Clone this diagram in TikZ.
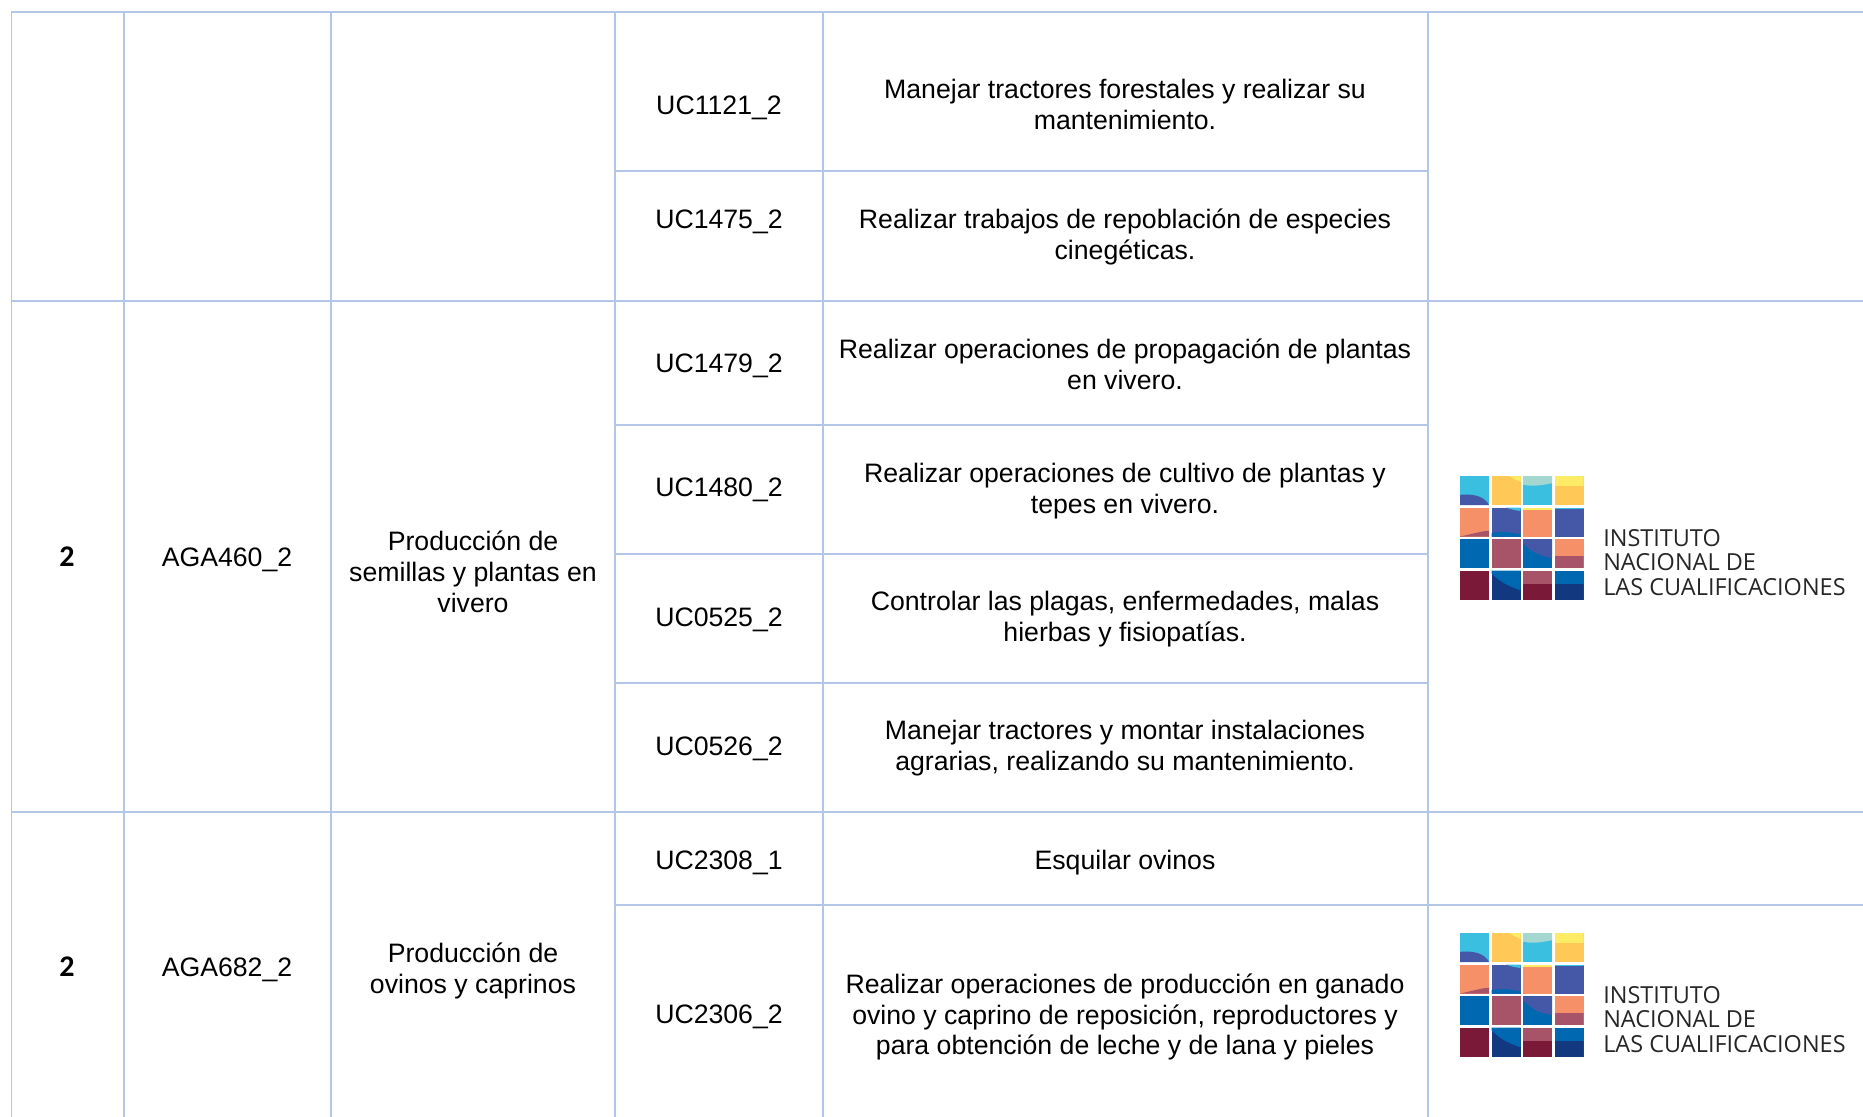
\documentclass[tikz,border=0pt]{standalone}
\usepackage{fontspec}
\setmainfont{Liberation Sans}
\newfontfamily\boldcal{Carlito}
\newfontfamily\logofont{Open Sans}
\definecolor{gridblue}{HTML}{B4C6E7}
\definecolor{lcyan}{HTML}{3BBFE0}
\definecolor{lyellow}{HTML}{FFC857}
\definecolor{lpale}{HTML}{FFEC66}
\definecolor{lmint}{HTML}{A4D7D0}
\definecolor{lorange}{HTML}{F59068}
\definecolor{lindigo}{HTML}{4558A8}
\definecolor{lblue}{HTML}{0068B0}
\definecolor{lmauve}{HTML}{A85468}
\definecolor{lmaroon}{HTML}{7A1A38}
\definecolor{lnavy}{HTML}{123880}
\newcommand{\lover}[4]{%
  \begin{scope}[shift={(#1*31.5,#2*31.5)},x=21.75pt,y=-21.75pt]
    \clip (0,0) rectangle (1,1);
    \fill[#3] #4;
  \end{scope}}
\newcommand{\lcell}[3]{%
  \begin{scope}[shift={(#1*31.5,#2*31.5)},x=21.75pt,y=-21.75pt]
    \fill[#3] (0,0) rectangle (1,1);
  \end{scope}}
\newcommand{\inclogo}[2]{%
  \begin{scope}[shift={(#1,#2)}]
    \lcell{0}{0}{lcyan}
    \lover{0}{0}{lindigo}{(0,1) -- (0,.65) .. controls (.45,.6) and (.85,.7) .. (1,1) -- cycle}
    \lcell{1}{0}{lyellow}
    \lover{1}{0}{lpale}{(.62,0) .. controls (.75,.1) and (.9,.15) .. (1,.2) -- (1,0) -- cycle}
    \lcell{2}{0}{lcyan}
    \lover{2}{0}{lmint}{(0,0) -- (0,.3) .. controls (.4,.38) and (.7,.3) .. (1,.25) -- (1,0) -- cycle}
    \lcell{3}{0}{lyellow}
    \lover{3}{0}{lpale}{(0,0) rectangle (1,.33)}
    \lcell{0}{1}{lorange}
    \lover{0}{1}{lmauve}{(0,1) .. controls (.4,.92) and (.7,.82) .. (1,.8) -- (1,1) -- cycle}
    \lcell{1}{1}{lindigo}
    \lover{1}{1}{lcyan}{(.5,0) .. controls (.7,.08) and (.85,.1) .. (1,.12) -- (1,0) -- cycle}
    \lover{1}{1}{lblue}{(0,1) -- (0,.88) .. controls (.4,.8) and (.7,.88) .. (1,.92) -- (1,1) -- cycle}
    \lcell{2}{1}{lorange}
    \lover{2}{1}{lpale}{(0,0) rectangle (1,.1)}
    \lcell{3}{1}{lindigo}
    \lover{3}{1}{lcyan}{(0,0) rectangle (1,.05)}
    \lcell{0}{2}{lblue}
    \lcell{1}{2}{lmauve}
    \lcell{2}{2}{lblue}
    \lover{2}{2}{lindigo}{(0,0) -- (0,.15) .. controls (.3,.45) and (.6,.6) .. (1,.65) -- (1,0) -- cycle}
    \lcell{3}{2}{lorange}
    \lover{3}{2}{lmauve}{(0,.6) rectangle (1,1)}
    \lcell{0}{3}{lmaroon}
    \lcell{1}{3}{lnavy}
    \lover{1}{3}{lblue}{(0,0) -- (0,.1) .. controls (.3,.4) and (.6,.55) .. (1,.68) -- (1,0) -- cycle}
    \lcell{2}{3}{lmauve}
    \lover{2}{3}{lmaroon}{(0,.45) rectangle (1,1)}
    \lcell{3}{3}{lblue}
    \lover{3}{3}{lnavy}{(0,.45) rectangle (1,1)}
  \end{scope}}
\tikzset{
  grid line/.style={draw=gridblue,line width=1pt},
  celltext/.style={inner sep=0pt,align=center,text=black,font=\fontsize{20}{23.2}\selectfont},
  boldtext/.style={inner sep=0pt,font=\boldcal\bfseries\fontsize{22.5}{24}\selectfont},
  logotext/.style={inner sep=0pt,anchor=base west,text=black!85,font=\logofont\fontsize{17.6}{18}\selectfont}
}
\begin{document}
\begin{tikzpicture}[x=0.75pt,y=-0.75pt]
\useasboundingbox (0,0) rectangle (1863,1117);
% horizontal rules
\draw[grid line] (1863,12) -- (11.5,12) -- (11.5,1117);
\draw[grid line] (11.5,301) -- (1863,301);
\draw[grid line] (11.5,812) -- (1863,812);
\draw[grid line] (615,171) -- (1428,171);
\draw[grid line] (615,425) -- (1428,425);
\draw[grid line] (615,554) -- (1428,554);
\draw[grid line] (615,683) -- (1428,683);
\draw[grid line] (615,905) -- (1863,905);
% vertical rules
\foreach \vx in {124,331,615,823,1428}
  \draw[grid line] (\vx,12) -- (\vx,1117);
% codes
\node[celltext] (u1) at (719,107.5) {UC1121\_2};
\node[celltext] (u2) at (719,221.5) {UC1475\_2};
\node[celltext] (u3) at (719,365.5) {UC1479\_2};
\node[celltext] (u4) at (719,489.5) {UC1480\_2};
\node[celltext] (u5) at (719,619.5) {UC0525\_2};
\node[celltext] (u6) at (719,748.5) {UC0526\_2};
\node[celltext] (u7) at (719,863) {UC2308\_1};
\node[celltext] (u8) at (719,1016.5) {UC2306\_2};
% descriptions
\node[celltext] (d1) at (1125,104.5) {Manejar tractores forestales y realizar su\\mantenimiento.};
\node[celltext] (d2) at (1125,237) {Realizar trabajos de repoblación de especies\\cinegéticas.};
\node[celltext] (d3) at (1125,364) {Realizar operaciones de propagación de plantas\\en vivero.};
\node[celltext] (d4) at (1125,491) {Realizar operaciones de cultivo de plantas y\\tepes en vivero.};
\node[celltext] (d5) at (1125,619.5) {Controlar las plagas, enfermedades, malas\\hierbas y fisiopatías.};
\node[celltext] (d6) at (1125,748) {Manejar tractores y montar instalaciones\\agrarias, realizando su mantenimiento.};
\node[celltext] (d7) at (1125,863) {Esquilar ovinos};
\node[celltext] (d8) at (1125,1017) {Realizar operaciones de producción en ganado\\ovino y caprino de reposición, reproductores y\\para obtención de leche y de lana y pieles};
% left columns
\node[boldtext] (n1) at (67,557) {2};
\node[celltext] (c1) at (227,559.5) {AGA460\_2};
\node[celltext] (t1) at (473,572) {Producción de\\semillas y plantas en\\vivero};
\node[boldtext] (n2) at (67,967) {2};
\node[celltext] (c2) at (227,969.5) {AGA682\_2};
\node[celltext] (t2) at (473,970.5) {Producción de\\ovinos y caprinos};
% logos
\inclogo{1460}{476}
\node[logotext] (la1) at (1603,546) {INSTITUTO};
\node[logotext] (la2) at (1603,570.5) {NACIONAL DE};
\node[logotext] (la3) at (1603,595) {LAS CUALIFICACIONES};
\inclogo{1460}{933}
\node[logotext] (lb1) at (1603,1003) {INSTITUTO};
\node[logotext] (lb2) at (1603,1027.5) {NACIONAL DE};
\node[logotext] (lb3) at (1603,1052) {LAS CUALIFICACIONES};
\end{tikzpicture}
\end{document}
